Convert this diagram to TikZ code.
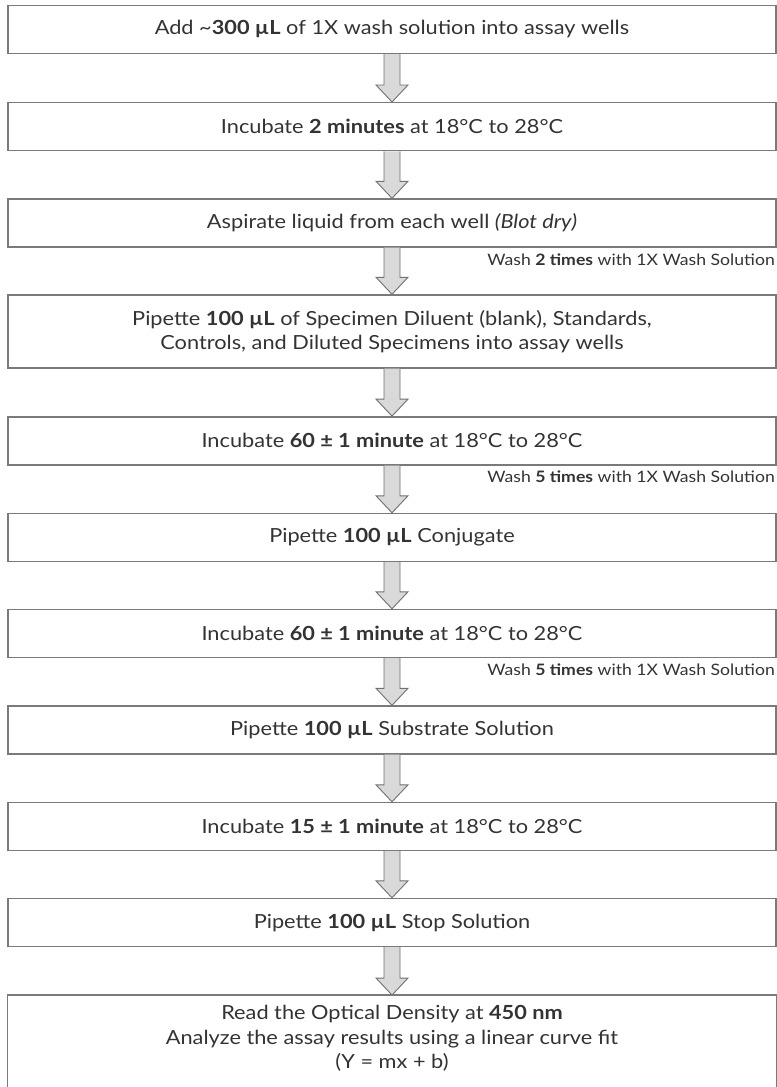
\documentclass[tikz,border=0pt]{standalone}
\usepackage{fontspec}
\setmainfont{Lato}[FakeStretch=1.12]
\usetikzlibrary{calc}
\definecolor{boxline}{HTML}{7A7A7A}
\definecolor{txt}{HTML}{333333}
\definecolor{arrowfill}{HTML}{D9D9D9}
\definecolor{arrowline}{HTML}{707070}
\newcommand\flowarrow[2]{%
  \draw[arrowst] ($(#1.south)+(-8,0)$) -- ($(#2.north)+(-8,-17)$) -- ($(#2.north)+(-16,-17)$)
    -- (#2.north) -- ($(#2.north)+(16,-17)$) -- ($(#2.north)+(8,-17)$) -- ($(#1.south)+(8,0)$);}
\begin{document}
\begin{tikzpicture}[x=1bp,y=-1bp,
  stepbox/.style={draw=boxline, line width=1.4bp, minimum width=768bp, minimum height=48bp,
    inner sep=0pt, align=center, text=txt, font=\fontsize{19.5}{23.5}\selectfont},
  washlabel/.style={anchor=base east, inner sep=0pt, text=txt, font=\fontsize{15.8}{18}\selectfont},
  arrowst/.style={draw=arrowline, fill=arrowfill, line width=0.9bp, line join=miter}]
\useasboundingbox (0,0) rectangle (777,1087);

\node[stepbox] (s1) at (392,29.5) {Add \textasciitilde\textbf{300 µL} of 1X wash solution into assay wells};
\node[stepbox] (s2) at (392,126.7) {Incubate \textbf{2 minutes} at 18°C to 28°C};
\node[stepbox] (s3) at (392,223) {Aspirate liquid from each well \textit{(Blot dry)}};
\node[stepbox, minimum height=73bp] (s4) at (392,331.5) {Pipette \textbf{100 µL} of Specimen Diluent (blank), Standards,\\Controls, and Diluted Specimens into assay wells};
\node[stepbox] (s5) at (392,440.8) {Incubate \textbf{60 ± 1 minute} at 18°C to 28°C};
\node[stepbox] (s6) at (392,537.5) {Pipette \textbf{100 µL} Conjugate};
\node[stepbox] (s7) at (392,633.5) {Incubate \textbf{60 ± 1 minute} at 18°C to 28°C};
\node[stepbox] (s8) at (392,730) {Pipette \textbf{100 µL} Substrate Solution};
\node[stepbox] (s9) at (392,826.5) {Incubate \textbf{15 ± 1 minute} at 18°C to 28°C};
\node[stepbox] (s10) at (392,922.5) {Pipette \textbf{100 µL} Stop Solution};
\node[stepbox, draw=none, minimum height=91.3bp] (s11) at (392,1041.4) {};
\node[inner sep=0pt, align=center, text=txt, font=\fontsize{19.5}{24.5}\selectfont] (t11) at (392,1038.5)
  {Read the Optical Density at \textbf{450 nm}\\Analyze the assay results using a linear curve fit\\(Y = mx + b)};
\draw[boxline, line width=1.4bp] (s11.south west) -- (s11.north west) -- (s11.north east) -- (s11.south east);

\node[washlabel] (w1) at (775,265) {Wash \textbf{2 times} with 1X Wash Solution};
\node[washlabel] (w2) at (775,482) {Wash \textbf{5 times} with 1X Wash Solution};
\node[washlabel] (w3) at (775,675) {Wash \textbf{5 times} with 1X Wash Solution};

\flowarrow{s1}{s2}
\flowarrow{s2}{s3}
\flowarrow{s3}{s4}
\flowarrow{s4}{s5}
\flowarrow{s5}{s6}
\flowarrow{s6}{s7}
\flowarrow{s7}{s8}
\flowarrow{s8}{s9}
\flowarrow{s9}{s10}
\flowarrow{s10}{s11}
\end{tikzpicture}
\end{document}
